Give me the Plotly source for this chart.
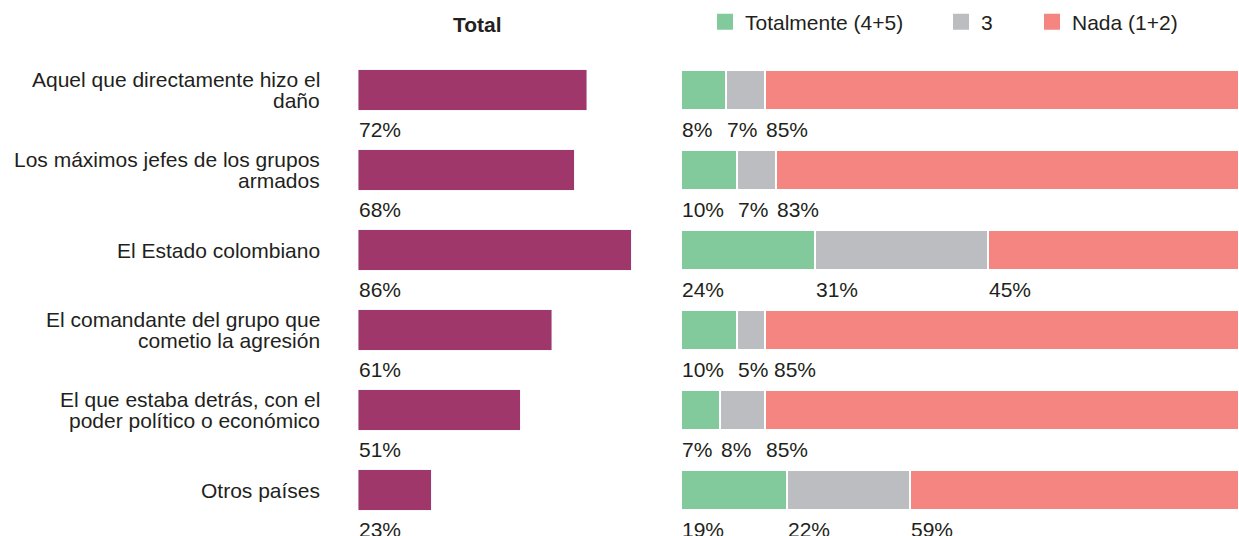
import plotly.graph_objects as go

categorias = [
    "Aquel que directamente hizo el<br>daño",
    "Los máximos jefes de los grupos<br>armados",
    "El Estado colombiano",
    "El comandante del grupo que<br>cometio la agresión",
    "El que estaba detrás, con el<br>poder político o económico",
    "Otros países",
]
total = [72, 68, 86, 61, 51, 23]
totalmente = [8, 10, 24, 10, 7, 19]
tres = [7, 7, 31, 5, 8, 22]
nada = [85, 83, 45, 85, 85, 59]

series = [
    ("Totalmente (4+5)", totalmente, "#82CA9C"),
    ("3", tres, "#BCBDC0"),
    ("Nada (1+2)", nada, "#F48580"),
]

FONT = "Liberation Sans, Arial, sans-serif"
TXT = "#231F20"
W, H = 1239, 536
PCT = 21  # tamaño de las etiquetas de porcentaje

fig = go.Figure()

fig.add_trace(
    go.Bar(
        x=total,
        y=categorias,
        orientation="h",
        width=0.51,
        marker_color="#A0376A",
        showlegend=False,
        hoverinfo="skip",
        xaxis="x",
        yaxis="y",
    )
)

leyendas = ["legend", "legend2", "legend3"]
for (nombre, valores, color), ley in zip(series, leyendas):
    fig.add_trace(
        go.Bar(
            x=valores,
            y=categorias,
            orientation="h",
            width=0.51,
            marker=dict(color=color, line=dict(color="white", width=2)),
            showlegend=False,
            hoverinfo="skip",
            xaxis="x2",
            yaxis="y2",
        )
    )
    # entrada de leyenda con cuadrado grande
    fig.add_trace(
        go.Scatter(
            x=[None],
            y=[None],
            mode="markers",
            name=nombre,
            legend=ley,
            marker=dict(color=color, size=16, symbol="square"),
            xaxis="x2",
            yaxis="y2",
        )
    )

anotaciones = []
# etiquetas de categoria, linea por linea (interlineado compacto)
for cat in categorias:
    lineas = cat.split("<br>")
    n = len(lineas)
    for k, linea in enumerate(lineas):
        anotaciones.append(
            dict(x=0, y=cat, xref="x", yref="y", text=linea, showarrow=False,
                 xanchor="right", yanchor="middle", xshift=-36,
                 yshift=((n - 1) / 2 - k) * 21)
        )

for cat, v in zip(categorias, total):
    anotaciones.append(
        dict(x=0, y=cat, xref="x", yref="y", text=f"{v}%", showarrow=False,
             xanchor="left", yanchor="middle", yshift=-39, xshift=-1)
    )

# etiquetas del panel apilado; se separan si chocan
px_por_pct = (W - 681) / 100
for i, cat in enumerate(categorias):
    inicio = 0
    fin_prev = -1e9
    for _, valores, _ in series:
        texto = f"{valores[i]}%"
        ancho = (0.556 * (len(texto) - 1) + 0.889) * PCT
        pos = inicio * px_por_pct
        desplaz = max(0, fin_prev + 6 - pos)
        anotaciones.append(
            dict(x=inicio, y=cat, xref="x2", yref="y2", text=texto,
                 showarrow=False, xanchor="left", yanchor="middle", yshift=-39,
                 xshift=desplaz - 1)
        )
        fin_prev = pos + desplaz + ancho
        inicio += valores[i]

anotaciones.append(
    dict(x=478 / W, y=1, xref="paper", yref="paper", yshift=26,
         text="<b>Total</b>", showarrow=False, xanchor="center", yanchor="middle")
)

ley_y = (530 - 22) / 480
fig.update_layout(
    width=W,
    height=H,
    margin=dict(l=0, r=0, t=50, b=6),
    barmode="stack",
    plot_bgcolor="white",
    paper_bgcolor="white",
    font=dict(family=FONT, size=21, color=TXT),
    annotations=anotaciones,
    xaxis=dict(domain=[358 / W, 676 / W], range=[0, 100], visible=False, fixedrange=True),
    xaxis2=dict(domain=[681 / W, 1], range=[0, 100], visible=False, fixedrange=True),
    yaxis=dict(anchor="x", range=[5.5, -0.5], visible=False),
    yaxis2=dict(anchor="x2", matches="y", range=[5.5, -0.5], visible=False),
    legend=dict(orientation="h", x=705 / W, xanchor="left", y=ley_y, yanchor="middle",
                itemsizing="trace", bgcolor="rgba(0,0,0,0)"),
    legend2=dict(orientation="h", x=941 / W, xanchor="left", y=ley_y, yanchor="middle",
                 itemsizing="trace", bgcolor="rgba(0,0,0,0)"),
    legend3=dict(orientation="h", x=1032 / W, xanchor="left", y=ley_y, yanchor="middle",
                 itemsizing="trace", bgcolor="rgba(0,0,0,0)"),
)

fig.write_html("out.html", config={"displayModeBar": False},
               post_script="document.body.style.margin='0';")
